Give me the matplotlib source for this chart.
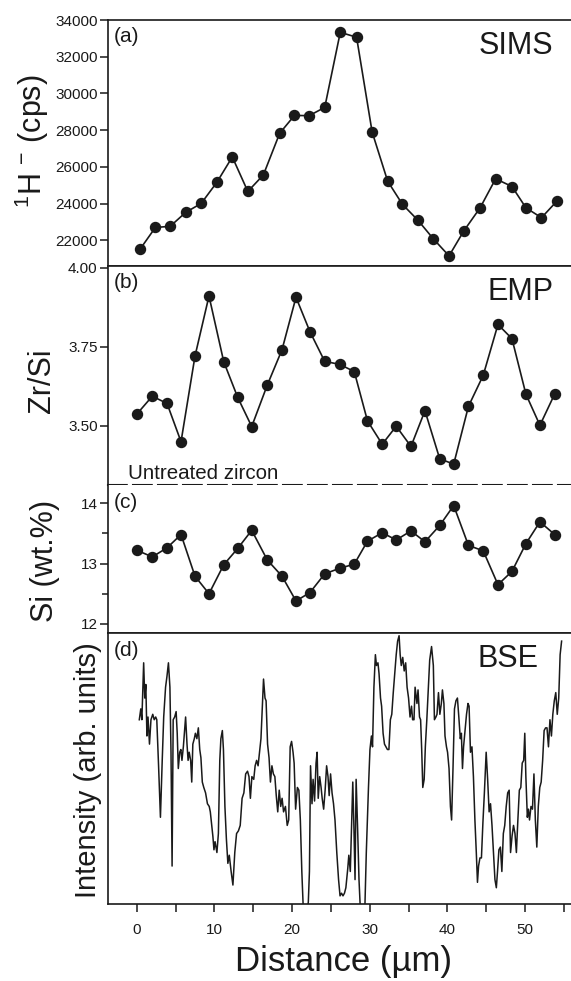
import matplotlib
matplotlib.use('Agg')
import matplotlib.pyplot as plt
from matplotlib.ticker import MultipleLocator, FormatStrFormatter, FixedLocator

plt.rcParams['font.family'] = ['Liberation Sans', 'DejaVu Sans']
plt.rcParams['mathtext.fontset'] = 'custom'
plt.rcParams['mathtext.rm'] = 'Liberation Sans'
plt.rcParams['mathtext.it'] = 'Liberation Sans:italic'

# (a) SIMS 1H- counts
sims_x = [0.4, 2.4, 4.3, 6.3, 8.3, 10.3, 12.3, 14.3, 16.3, 18.4, 20.3, 22.2, 24.2, 26.2,
          28.3, 30.3, 32.3, 34.2, 36.2, 38.2, 40.2, 42.1, 44.2, 46.2, 48.3, 50.1, 52.1, 54.1]
sims_h = [21500, 22700, 22760, 23520, 24010, 25150, 26540, 24660, 25560, 27830, 28800, 28790,
          29240, 33330, 33060, 27900, 25220, 23960, 23090, 22070, 21150, 22510, 23770, 25350,
          24930, 23770, 23230, 24140]

# (b), (c) EMP
emp_x = [0.0, 2.0, 3.9, 5.7, 7.5, 9.3, 11.2, 13.0, 14.8, 16.8, 18.7, 20.5, 22.3, 24.2, 26.1,
         28.0, 29.7, 31.6, 33.4, 35.3, 37.1, 39.0, 40.8, 42.7, 44.6, 46.5, 48.3, 50.1, 51.9, 53.8]
emp_zrsi = [3.536, 3.593, 3.570, 3.449, 3.720, 3.910, 3.702, 3.589, 3.497, 3.628, 3.740, 3.906,
            3.797, 3.703, 3.694, 3.671, 3.515, 3.441, 3.498, 3.434, 3.547, 3.395, 3.378, 3.561,
            3.659, 3.820, 3.775, 3.599, 3.501, 3.600]
emp_si = [13.22, 13.11, 13.26, 13.48, 12.79, 12.50, 12.98, 13.25, 13.55, 13.06, 12.79, 12.38,
          12.52, 12.83, 12.92, 12.99, 13.37, 13.51, 13.39, 13.54, 13.36, 13.63, 13.96, 13.30,
          13.21, 12.65, 12.87, 13.33, 13.69, 13.48]

# (d) BSE profile (arb. units, 0-100 = panel height)
bse_x = [0.33, 0.52, 0.66, 0.89, 1.03, 1.17, 1.31, 1.45, 1.64, 1.83, 2.06, 2.25, 2.44, 2.58,
         2.81, 3.05, 3.28, 3.47, 3.71, 3.89, 4.08, 4.27, 4.41, 4.55, 4.69, 4.88, 5.07, 5.21,
         5.35, 5.53, 5.68, 5.82, 6.0, 6.29, 6.47, 6.61, 6.75, 6.94, 7.08, 7.22, 7.41, 7.55,
         7.74, 7.93, 8.11, 8.26, 8.44, 8.63, 8.86, 9.1, 9.33, 9.47, 9.62, 9.8, 9.94, 10.08,
         10.32, 10.51, 10.69, 10.83, 11.02, 11.16, 11.35, 11.54, 11.73, 11.91, 12.15, 12.38,
         12.62, 12.85, 13.09, 13.32, 13.56, 13.79, 14.02, 14.26, 14.45, 14.63, 14.82, 15.06,
         15.24, 15.43, 15.62, 15.81, 15.99, 16.18, 16.32, 16.51, 16.65, 16.84, 17.03, 17.21,
         17.4, 17.59, 17.78, 17.96, 18.15, 18.34, 18.53, 18.71, 18.9, 19.14, 19.37, 19.56,
         19.75, 19.93, 20.12, 20.26, 20.45, 20.68, 20.87, 21.06, 21.25, 21.44, 21.67, 21.9,
         22.09, 22.23, 22.37, 22.56, 22.7, 22.89, 23.08, 23.22, 23.36, 23.55, 23.73, 23.87,
         24.06, 24.25, 24.44, 24.62, 24.77, 24.95, 25.14, 25.33, 25.52, 25.75, 25.98, 26.17,
         26.36, 26.55, 26.74, 26.92, 27.16, 27.3, 27.49, 27.67, 27.81, 27.95, 28.1, 28.24,
         28.42, 28.61, 28.8, 29.08, 29.36, 29.55, 29.83, 30.02, 30.21, 30.35, 30.53, 30.72,
         30.86, 31.05, 31.19, 31.38, 31.52, 31.71, 31.89, 32.08, 32.27, 32.46, 32.65, 32.83,
         33.02, 33.21, 33.4, 33.58, 33.77, 33.91, 34.05, 34.24, 34.43, 34.62, 34.8, 34.99,
         35.18, 35.37, 35.51, 35.69, 35.83, 36.07, 36.21, 36.4, 36.54, 36.68, 36.82, 37.0,
         37.15, 37.34, 37.52, 37.71, 37.95, 38.18, 38.32, 38.51, 38.65, 38.84, 39.02, 39.21,
         39.35, 39.54, 39.68, 39.87, 40.01, 40.2, 40.38, 40.53, 40.71, 40.9, 41.09, 41.28,
         41.46, 41.65, 41.79, 41.93, 42.07, 42.26, 42.45, 42.64, 42.78, 42.96, 43.15, 43.34,
         43.53, 43.71, 43.86, 44.0, 44.18, 44.37, 44.56, 44.75, 44.98, 45.17, 45.36, 45.54,
         45.73, 45.92, 46.11, 46.29, 46.44, 46.62, 46.81, 47.0, 47.19, 47.37, 47.56, 47.75,
         47.94, 48.12, 48.31, 48.5, 48.69, 48.87, 49.06, 49.25, 49.44, 49.62, 49.81, 49.95,
         50.09, 50.28, 50.42, 50.56, 50.75, 50.94, 51.13, 51.31, 51.5, 51.69, 51.88, 52.06,
         52.25, 52.44, 52.63, 52.81, 53.0, 53.19, 53.38, 53.56, 53.75, 53.94, 54.13, 54.32,
         54.5, 54.69]
bse_int = [68, 72, 68, 89, 76, 81, 62, 69, 59, 68, 70, 68, 69, 68,
           51, 32, 53, 69, 80, 84, 89, 80, 56, 14, 68, 69, 71, 63,
           50, 56, 57, 53, 58, 69, 59, 53, 56, 53, 45, 59, 61, 63,
           61, 65, 57, 54, 45, 43, 41, 37, 36, 34, 30, 25, 20, 23,
           19, 26, 53, 61, 64, 57, 36, 24, 15, 18, 12, 7,
           19, 26, 27, 29, 39, 41, 48, 49, 47, 39, 47, 46,
           51, 53, 51, 56, 61, 74, 83, 76, 75, 59, 54, 45,
           51, 48, 47, 40, 34, 42, 36, 39, 34, 36, 29, 31,
           58, 60, 56, 52, 35, 43, 42, 31, 12, -2, -8, -6,
           1, 12, 51, 37, 46, 38, 52, 56, 39, 47, 43, 39,
           35, 42, 51, 47, 40, 48, 41, 37, 31, 19, 9, 3,
           4, 3, 4, 6, 13, 18, 12, 31, 45, 29, 9, 46,
           29, 9, -3, -8, -2, 19, 43, 57, 62, 58, 80, 92,
           88, 89, 85, 76, 73, 63, 59, 58, 57, 57, 68, 70,
           78, 85, 92, 97, 99, 92, 88, 91, 86, 89, 80, 76,
           69, 73, 68, 68, 80, 74, 79, 69, 68, 57, 43, 46,
           58, 68, 79, 90, 95, 88, 68, 69, 70, 78, 70, 74,
           79, 74, 62, 58, 56, 50, 36, 31, 50, 72, 75, 76,
           69, 61, 63, 50, 58, 64, 70, 74, 73, 56, 58, 47,
           31, 19, 8, 14, 17, 17, 30, 41, 56, 46, 34, 37,
           29, 19, 9, 6, 12, 20, 21, 12, 26, 29, 36, 41,
           42, 19, 25, 29, 26, 19, 31, 42, 43, 52, 53, 63,
           47, 32, 35, 31, 36, 35, 48, 31, 21, 36, 43, 45,
           53, 64, 65, 65, 58, 68, 62, 70, 75, 78, 70, 76,
           92, 97]

W, H = 571, 981
fig = plt.figure(figsize=(W / 100, H / 100), dpi=100)
ink = '#1a1a1a'


def panel(top, bottom):
    ax = fig.add_axes([108 / W, 1 - bottom / H, 1 - 108 / W, (bottom - top) / H])
    ax.set_xlim(-3.7, 55.9)
    ax.spines['right'].set_visible(False)
    for s in ax.spines.values():
        s.set_linewidth(1.2)
        s.set_color(ink)
    ax.tick_params(axis='both', which='both', direction='out', length=6, width=1.1,
                   labelsize=11, pad=1.5, colors=ink)
    ax.tick_params(axis='x', which='both', bottom=False, labelbottom=False)
    return ax


ax_a = panel(20, 266)
ax_b = panel(266, 485)
ax_c = panel(485, 633)
ax_d = panel(633, 904)

dot = dict(color=ink, lw=1.2, marker='o', ms=7.2)

ax_a.plot(sims_x, sims_h, **dot)
ax_a.set_ylim(20600, 34000)
ax_a.yaxis.set_major_locator(FixedLocator([22000, 24000, 26000, 28000, 30000, 32000, 34000]))

ax_b.plot(emp_x, emp_zrsi, **dot)
ax_b.set_ylim(3.312, 4.005)
ax_b.yaxis.set_major_locator(FixedLocator([3.50, 3.75, 4.00]))
ax_b.yaxis.set_major_formatter(FormatStrFormatter('%.2f'))
ax_b.spines['bottom'].set_linewidth(1.5)
ax_b.spines['bottom'].set_linestyle((0, (9, 3)))

ax_c.plot(emp_x, emp_si, **dot)
ax_c.set_ylim(11.85, 14.30)
ax_c.yaxis.set_major_locator(FixedLocator([12, 13, 14]))
ax_c.yaxis.set_minor_locator(FixedLocator([12.5, 13.5]))
ax_c.tick_params(axis='y', which='minor', length=4)
ax_c.spines['top'].set_visible(False)

ax_d.plot(bse_x, bse_int, color=ink, lw=1.1)
ax_d.set_ylim(0, 100)
ax_d.tick_params(axis='y', left=False, labelleft=False)
ax_d.tick_params(axis='x', which='both', bottom=True, labelbottom=True, pad=8)
ax_d.xaxis.set_major_locator(MultipleLocator(10))
ax_d.xaxis.set_minor_locator(MultipleLocator(5))

# panel letters and method names
for ax, letter, yc in [(ax_a, '(a)', 36), (ax_b, '(b)', 282), (ax_c, '(c)', 502), (ax_d, '(d)', 651)]:
    fig.text(114 / W, 1 - yc / H, letter, fontsize=15, ha='left', va='center', color=ink)
fig.text(553 / W, 1 - 46 / H, 'SIMS', fontsize=22, ha='right', va='center', color=ink)
fig.text(553 / W, 1 - 292 / H, 'EMP', fontsize=22, ha='right', va='center', color=ink)
fig.text(539 / W, 1 - 659 / H, 'BSE', fontsize=22, ha='right', va='center', color=ink)
fig.text(128 / W, 1 - 479 / H, 'Untreated zircon', fontsize=14.8, ha='left', va='baseline', color=ink)

# axis titles
fig.text(32 / W, 1 - 141 / H, r'$^{1}$H $^{-}$ (cps)', fontsize=22, rotation=90,
         ha='center', va='center', color=ink)
fig.text(42 / W, 1 - 381 / H, 'Zr/Si', fontsize=22, rotation=90, ha='center', va='center', color=ink)
fig.text(45 / W, 1 - 561 / H, 'Si (wt.%)', fontsize=22, rotation=90, ha='center', va='center', color=ink)
fig.text(88 / W, 1 - 770 / H, 'Intensity (arb. units)', fontsize=21, rotation=90,
         ha='center', va='center', color=ink)
fig.text(344 / W, 1 - 961 / H, 'Distance (\u00b5m)', fontsize=25, ha='center', va='center', color=ink)

fig.savefig('out.png', dpi=100)
